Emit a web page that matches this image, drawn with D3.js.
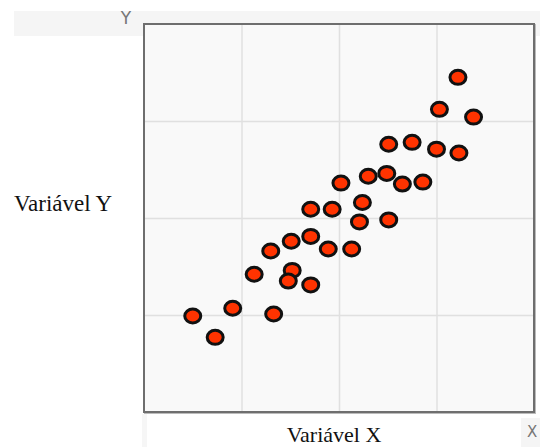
<!DOCTYPE html>
<html><head><meta charset="utf-8">
<script src="https://cdn.jsdelivr.net/npm/d3@7"></script>
<style>html,body{margin:0;padding:0;background:#fff;overflow:hidden}</style>
</head><body>
<script>
// Data
const xValues = [3.22,3.03,3.38,2.51,2.75,3.00,3.23,2.02,2.30,2.49,2.65,2.86,2.24,1.71,1.93,2.21,2.51,1.30,1.51,1.71,1.89,2.13,1.13,1.48,1.52,1.71,0.50,0.91,1.33,0.73];
const yValues = [3.45,3.12,3.04,2.76,2.78,2.71,2.67,2.36,2.43,2.46,2.35,2.37,2.16,2.09,2.09,1.96,1.98,1.66,1.76,1.81,1.68,1.68,1.42,1.35,1.46,1.31,0.99,1.07,1.01,0.77];
const gridTicks = [0,1,2,3,4];
const xTitle = "Variável X";
const yTitle = "Variável Y";
const xAxisLetter = "X";
const yAxisLetter = "Y";

const W = 540, H = 447;
const svg = d3.select("body").append("svg").attr("width", W).attr("height", H);

const x0 = 144, x1 = 534, y0 = 412, y1 = 24;
const x = d3.scaleLinear().domain([0,4]).range([x0,x1]);
const y = d3.scaleLinear().domain([0,4]).range([y0,y1]);

// background bands
svg.append("rect").attr("x",14).attr("y",11).attr("width",W-14).attr("height",25).attr("fill","#f5f5f5");
svg.append("rect").attr("x",142).attr("y",414).attr("width",5).attr("height",H-414).attr("fill","#f6f6f6");
svg.append("rect").attr("x",521).attr("y",418).attr("width",W-521).attr("height",H-418).attr("fill","#f5f5f5");

// plot area
svg.append("rect").attr("x",x0+1).attr("y",y1+1).attr("width",x1-x0).attr("height",y0-y1)
  .attr("fill","none").attr("stroke","#bbb").attr("stroke-width",2);
svg.append("rect").attr("x",x0).attr("y",y1).attr("width",x1-x0).attr("height",y0-y1)
  .attr("fill","#f9f9f9");

// grid via axes
const gx = svg.append("g").attr("transform",`translate(0,${y0})`)
  .call(d3.axisBottom(x).tickValues(gridTicks.slice(1,4)).tickSize(-(y0-y1)).tickFormat(""));
const gy = svg.append("g").attr("transform",`translate(${x0},0)`)
  .call(d3.axisLeft(y).tickValues(gridTicks.slice(1,4)).tickSize(-(x1-x0)).tickFormat(""));
[gx,gy].forEach(g=>{
  g.select(".domain").remove();
  g.selectAll(".tick line").attr("stroke","#e0e0e0").attr("stroke-width",1.5);
});

// frame
svg.append("rect").attr("x",x0).attr("y",y1).attr("width",x1-x0).attr("height",y0-y1)
  .attr("fill","none").attr("stroke","#6e6e6e").attr("stroke-width",2);

// points (draw order adjusted so overlaps match)
const order = d3.range(xValues.length);
order.splice(23,2,24,23);
svg.append("g").selectAll("ellipse").data(order).join("ellipse")
  .attr("cx", i=>x(xValues[i])).attr("cy", i=>y(yValues[i]))
  .attr("rx",8).attr("ry",7)
  .attr("fill","#ff3300").attr("stroke","#111").attr("stroke-width",3);

// labels
svg.append("text").attr("x",14).attr("y",211).text(yTitle)
  .attr("font-family","Liberation Serif, Times New Roman, serif").attr("font-size",23).attr("fill","#111");
svg.append("text").attr("x",334).attr("y",442).attr("text-anchor","middle").text(xTitle)
  .attr("font-family","Liberation Serif, Times New Roman, serif").attr("font-size",22).attr("fill","#111");
svg.append("text").attr("x",126).attr("y",24).attr("text-anchor","middle").text(yAxisLetter)
  .attr("font-family","DejaVu Sans, sans-serif").attr("font-size",17).attr("fill","#777");
svg.append("text").attr("x",527).attr("y",437).text(xAxisLetter)
  .attr("font-family","DejaVu Sans, sans-serif").attr("font-size",15).attr("fill","#777");
</script>
</body></html>
